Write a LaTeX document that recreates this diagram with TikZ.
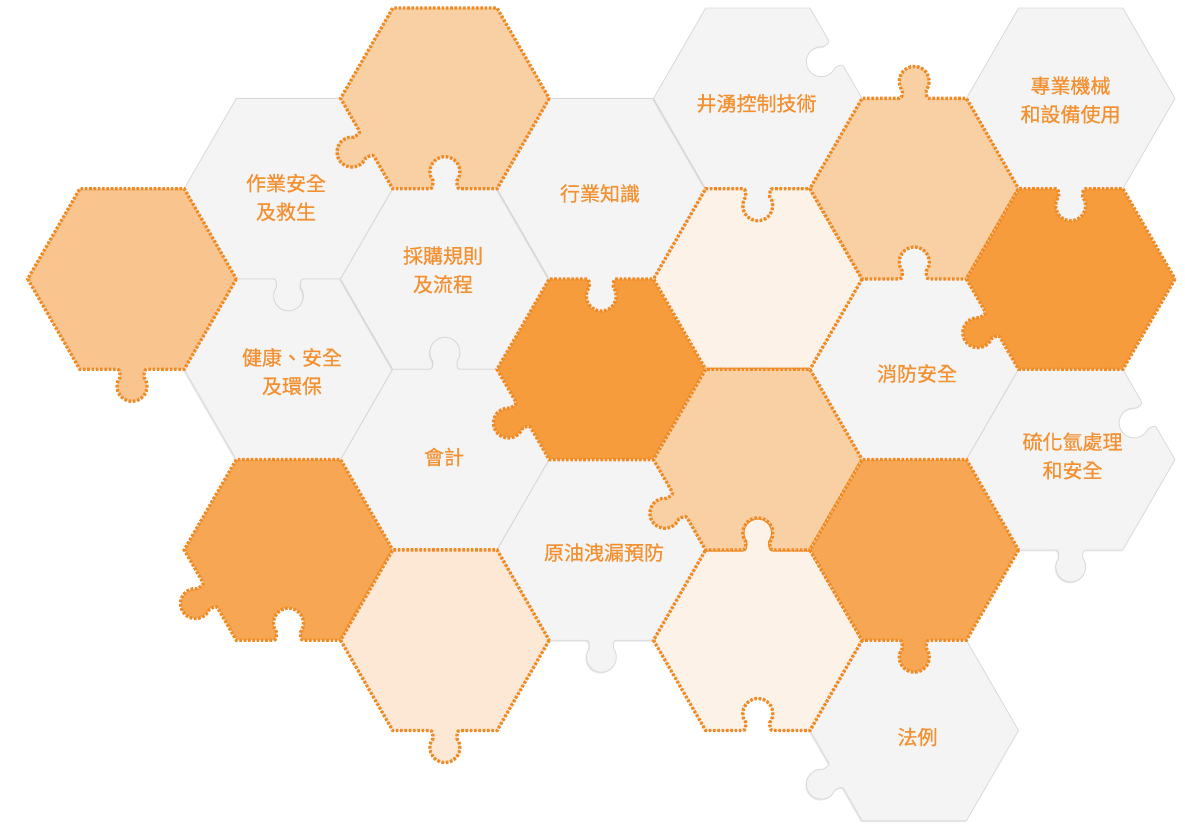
\documentclass[tikz,border=0pt]{standalone}
\usepackage{fontspec}
\newfontfamily\cjk[FakeBold=0.6]{Noto Sans CJK TC}
\usetikzlibrary{calc}
\usetikzlibrary{shadows}

\definecolor{tilegray}{HTML}{F4F4F4}
\definecolor{tileline}{HTML}{D9D9D9}
\definecolor{dotorange}{HTML}{F38A1F}
\definecolor{txtorange}{HTML}{F39030}
\definecolor{orangeA}{HTML}{F9C48E}
\definecolor{orangeB}{HTML}{F9D0A3}
\definecolor{orangeC}{HTML}{F7A753}
\definecolor{orangeD}{HTML}{F69C3D}
\definecolor{orangeE}{HTML}{FDE8D5}
\definecolor{orangeF}{HTML}{FDF2E8}

% 六边形外接圆半径与边心距
\def\tileR{104.3}
\def\tileA{90.3}
% 边上的凸块(#2=1)或凹口(#2=-1), #1为该边法线方向
\newcommand\knob[2]{%
  -- ($(c)+(#1:\tileA)+(#1+90:-15)$)
  .. controls ($(c)+(#1:\tileA)+(#1+90:-12)$) and ($(c)+(#1:{\tileA+4*#2})+(#1+90:-12)$)
  .. ($(c)+(#1:{\tileA+8*#2})+(#1+90:-12)$)
  arc[start angle={#1+90-216.87*#2}, end angle={#1+90+36.87*#2}, radius=15]
  .. controls ($(c)+(#1:{\tileA+4*#2})+(#1+90:12)$) and ($(c)+(#1:\tileA)+(#1+90:12)$)
  .. ($(c)+(#1:\tileA)+(#1+90:15)$)}
\newcommand\knobo[1]{\knob{#1}{1}}
\newcommand\knobi[1]{\knob{#1}{-1}}
\newcommand\knobx[1]{}
% 拼图块: 样式, 中心, 右下/下/左下/左上/上/右上各边
\newcommand\tile[8]{%
  \coordinate (c) at #2;
  \draw[#1] ($(c)+(0:\tileR)$) #3{30} -- ($(c)+(60:\tileR)$) #4{90}
    -- ($(c)+(120:\tileR)$) #5{150} -- ($(c)+(180:\tileR)$) #6{210}
    -- ($(c)+(240:\tileR)$) #7{270} -- ($(c)+(300:\tileR)$) #8{330} -- cycle;}

\tikzset{
  graytile/.style={fill=tilegray, draw=tileline, line width=0.8pt,
    drop shadow={shadow xshift=-1pt, shadow yshift=-1.4pt, opacity=0.18}},
  orangetile/.style={fill=#1, draw=tileline, line width=0.8pt,
    postaction={draw=dotorange, line width=3.3pt, dash pattern=on 2.6pt off 1.7pt}},
  tiletext/.style={text=txtorange, align=center, inner sep=0pt}
}

\begin{document}
\begin{tikzpicture}[x=1pt, y=-1pt, font=\cjk\fontsize{20}{28.5}\selectfont]
        \useasboundingbox (0,0) rectangle (1185,824);
        % 灰色块
        \tile{graytile}{(288.45,188.7)}\knobx\knobo\knobx\knobx\knobx\knobi
        \tile{graytile}{(288.45,369.3)}\knobx\knobx\knobx\knobx\knobi\knobx
        \tile{graytile}{(444.9,279)}\knobx\knobi\knobx\knobx\knobo\knobx
        \tile{graytile}{(444.9,459.6)}\knobx\knobx\knobx\knobx\knobo\knobi
        \tile{graytile}{(601.35,188.7)}\knobx\knobo\knobx\knobx\knobx\knobx
        \tile{graytile}{(601.35,549.9)}\knobx\knobo\knobx\knobx\knobx\knobi
        \tile{graytile}{(757.8,98.4)}\knobx\knobo\knobx\knobx\knobx\knobi
        \tile{graytile}{(914.25,369.3)}\knobx\knobx\knobx\knobx\knobo\knobi
        \tile{graytile}{(914.25,730.5)}\knobx\knobx\knobo\knobx\knobi\knobx
        \tile{graytile}{(1070.7,98.4)}\knobx\knobo\knobx\knobx\knobx\knobx
        \tile{graytile}{(1070.7,459.6)}\knobx\knobo\knobx\knobx\knobx\knobi
        % 橙色块
        \tile{orangetile=orangeA}{(132,279)}\knobx\knobo\knobx\knobx\knobx\knobx
        \tile{orangetile=orangeC}{(288.45,549.9)}\knobx\knobi\knobo\knobx\knobx\knobx
        \tile{orangetile=orangeB}{(444.9,98.4)}\knobx\knobi\knobo\knobx\knobx\knobx
        \tile{orangetile=orangeE}{(444.9,640.2)}\knobx\knobo\knobx\knobx\knobx\knobx
        \tile{orangetile=orangeD}{(601.35,369.3)}\knobx\knobx\knobo\knobx\knobi\knobx
        \tile{orangetile=orangeF}{(757.8,279)}\knobx\knobx\knobx\knobx\knobi\knobx
        \tile{orangetile=orangeF}{(757.8,640.2)}\knobx\knobi\knobx\knobx\knobo\knobx
        \tile{orangetile=orangeB}{(757.8,459.6)}\knobx\knobi\knobo\knobx\knobx\knobx
        \tile{orangetile=orangeB}{(914.25,188.7)}\knobx\knobi\knobx\knobx\knobo\knobx
        \tile{orangetile=orangeC}{(914.25,549.9)}\knobx\knobo\knobx\knobx\knobx\knobx
        \tile{orangetile=orangeD}{(1070.7,279)}\knobx\knobx\knobo\knobx\knobi\knobx
        % 文字
        \node[tiletext] (zuoye) at (286,197.5) {作業安全\\及救生};
        \node[tiletext] (jiankang) at (292,371.7) {健康、安全\\及環保};
        \node[tiletext] (caigou) at (443,270) {採購規則\\及流程};
        \node[tiletext] (kuaiji) at (444,457) {會計};
        \node[tiletext] (hangye) at (600,193.5) {行業知識};
        \node[tiletext] (yuanyou) at (604,552.5) {原油洩漏預防};
        \node[tiletext] (jingyong) at (756.5,103.4) {井湧控制技術};
        \node[tiletext] (xiaofang) at (917,373.5) {消防安全};
        \node[tiletext] (faly) at (917.5,737) {法例};
        \node[tiletext] (zhuanye) at (1070.5,100) {專業機械\\和設備使用};
        \node[tiletext] (liuhua) at (1072.5,456) {硫化氫處理\\和安全};
\end{tikzpicture}
\end{document}
